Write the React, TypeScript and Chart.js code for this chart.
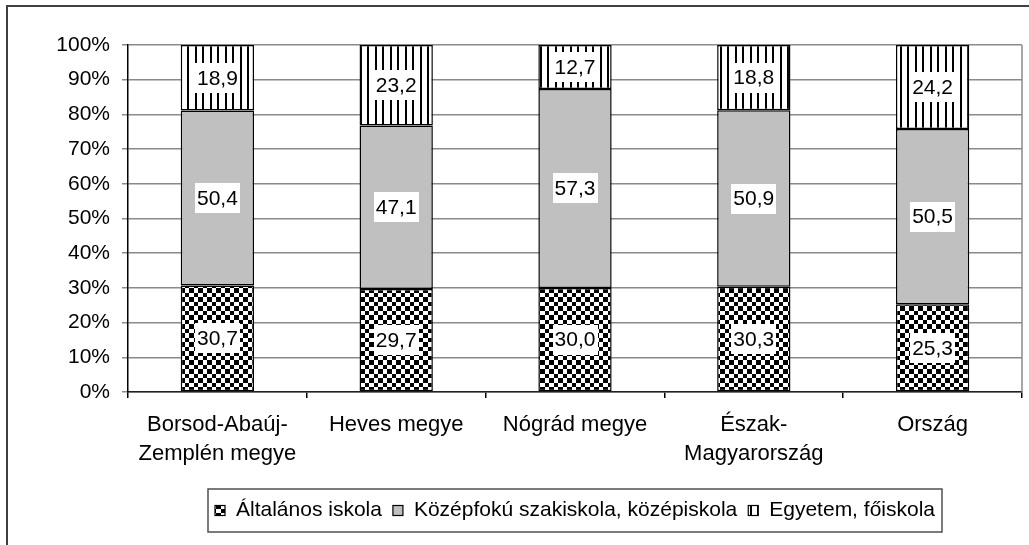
import React, { useEffect, useRef } from 'react';
import { Chart, registerables } from 'chart.js';

Chart.register(...registerables);

const categories: (string | string[])[] = [
  ['Borsod-Abaúj-', 'Zemplén megye'],
  'Heves megye',
  'Nógrád megye',
  ['Észak-', 'Magyarország'],
  'Ország',
];
const seriesNames = ['Általános iskola', 'Középfokú szakiskola, középiskola', 'Egyetem, főiskola'];
const altalanos = [30.7, 29.7, 30.0, 30.3, 25.3];
const kozepfoku = [50.4, 47.1, 57.3, 50.9, 50.5];
const egyetem = [18.9, 23.2, 12.7, 18.8, 24.2];
const yMin = 0;
const yMax = 100;
const yStep = 10;

const FONT = '"Liberation Sans", Arial, sans-serif';

function makeChecker(): CanvasPattern | string {
  const c = document.createElement('canvas');
  c.width = 9;
  c.height = 9;
  const g = c.getContext('2d')!;
  g.fillStyle = '#fff';
  g.fillRect(0, 0, 9, 9);
  g.fillStyle = '#000';
  g.fillRect(0, 0, 5, 5);
  g.fillRect(5, 5, 4, 4);
  return g.createPattern(c, 'repeat') || '#444';
}

function makeStripes(): CanvasPattern | string {
  const c = document.createElement('canvas');
  c.width = 15;
  c.height = 4;
  const g = c.getContext('2d')!;
  g.fillStyle = '#fff';
  g.fillRect(0, 0, 15, 4);
  g.fillStyle = '#000';
  g.fillRect(0, 0, 2, 4);
  g.fillRect(7, 0, 2, 4);
  return g.createPattern(c, 'repeat') || '#ddd';
}

export default function App() {
  const ref = useRef<HTMLCanvasElement | null>(null);

  useEffect(() => {
    if (!ref.current) return;
    const checker = makeChecker();
    const stripes = makeStripes();
    const fills = [checker, '#c0c0c0', stripes];
    const dataArrays = [altalanos, kozepfoku, egyetem];

    const framePlugin = {
      id: 'frame',
      beforeDraw(chart: any) {
        const ctx = chart.ctx;
        ctx.save();
        ctx.fillStyle = '#fff';
        ctx.fillRect(0, 0, chart.width, chart.height);
        ctx.strokeStyle = '#404040';
        ctx.lineWidth = 2;
        ctx.beginPath();
        ctx.moveTo(7, chart.height + 5);
        ctx.lineTo(7, 6);
        ctx.lineTo(chart.width + 5, 6);
        ctx.stroke();
        ctx.restore();
      },
      beforeDatasetsDraw(chart: any) {
        const ctx = chart.ctx;
        const a = chart.chartArea;
        ctx.save();
        ctx.strokeStyle = '#8a8a8a';
        ctx.lineWidth = 1.5;
        ctx.beginPath();
        ctx.moveTo(a.right, a.top);
        ctx.lineTo(a.right, a.bottom);
        ctx.stroke();
        ctx.restore();
      },
      afterDatasetsDraw(chart: any) {
        const ctx = chart.ctx;
        ctx.save();
        ctx.font = `21px ${FONT}`;
        ctx.textAlign = 'center';
        ctx.textBaseline = 'middle';
        chart.data.datasets.forEach((ds: any, i: number) => {
          const meta = chart.getDatasetMeta(i);
          meta.data.forEach((bar: any, j: number) => {
            const p = bar.getProps(['x', 'y', 'base'], true);
            const cy = (p.y + p.base) / 2;
            const txt = Number(ds.data[j]).toFixed(1).replace('.', ',');
            const w = ctx.measureText(txt).width + 4;
            const h = 30;
            ctx.fillStyle = '#fff';
            ctx.fillRect(Math.round(p.x - w / 2), Math.round(cy - h / 2), Math.round(w), h);
            ctx.fillStyle = '#000';
            ctx.fillText(txt, p.x, cy + 1);
          });
        });
        ctx.restore();
      },
      afterDraw(chart: any) {
        const ctx = chart.ctx;
        const a = chart.chartArea;
        ctx.save();
        ctx.font = `21px ${FONT}`;
        const marker = 10;
        const gap = 11;
        const widths = seriesNames.map((n) => ctx.measureText(n).width);
        let total = 0;
        widths.forEach((w, i) => {
          total += marker + gap + w + (i < widths.length - 1 ? gap : 0);
        });
        const cx = (a.left + a.right) / 2;
        const padX = 7;
        const boxLeft = cx - total / 2 - padX;
        const boxTop = 489;
        const boxBottom = 532;
        const cy = (boxTop + boxBottom) / 2;
        ctx.strokeStyle = '#505050';
        ctx.lineWidth = 1.5;
        ctx.strokeRect(boxLeft, boxTop, total + padX * 2, boxBottom - boxTop);
        let x = cx - total / 2;
        ctx.textBaseline = 'middle';
        ctx.textAlign = 'left';
        seriesNames.forEach((n, i) => {
          ctx.fillStyle = fills[i] as any;
          ctx.fillRect(x, cy - 5, marker, marker);
          ctx.strokeStyle = '#000';
          ctx.lineWidth = 1.2;
          ctx.strokeRect(x, cy - 5, marker, marker);
          x += marker + gap;
          ctx.fillStyle = '#000';
          ctx.fillText(n, x, cy);
          x += widths[i] + gap;
        });
        ctx.restore();
      },
    };

    const chart = new Chart(ref.current, {
      type: 'bar',
      data: {
        labels: categories as any,
        datasets: dataArrays.map((d, i) => ({
          label: seriesNames[i],
          data: d,
          backgroundColor: fills[i] as any,
          borderColor: '#000',
          borderWidth: 1.5,
          borderSkipped: false,
          barPercentage: 0.41,
          categoryPercentage: 1,
        })),
      },
      options: {
        animation: false,
        responsive: false,
        maintainAspectRatio: false,
        layout: { padding: { top: 45, right: 7, left: 0, bottom: 0 } },
        plugins: {
          legend: { display: false },
          tooltip: { enabled: false },
        },
        scales: {
          x: {
            stacked: true,
            offset: true,
            grid: {
              offset: true,
              drawOnChartArea: false,
              drawTicks: true,
              tickLength: 6,
              color: '#000',
              lineWidth: 1.5,
            },
            border: { display: true, color: '#222', width: 1.5 },
            ticks: {
              color: '#000',
              padding: 12,
              maxRotation: 0,
              autoSkip: false,
              font: { family: FONT, size: 22, lineHeight: 1.32 },
            },
            afterFit(scale: any) {
              scale.height = 153;
            },
          },
          y: {
            stacked: true,
            min: yMin,
            max: yMax,
            ticks: {
              stepSize: yStep,
              color: '#000',
              padding: 12,
              font: { family: FONT, size: 21 },
              callback: (v: any) => `${v}%`,
            },
            grid: {
              color: '#8a8a8a',
              lineWidth: 1.5,
              drawTicks: true,
              tickLength: 6,
            },
            border: { display: true, color: '#000', width: 1.5 },
            afterFit(scale: any) {
              scale.width = 128;
            },
          },
        },
      },
      plugins: [framePlugin],
    });
    return () => chart.destroy();
  }, []);

  return (
    <div style={{ position: 'absolute', left: 0, top: 0, width: 1029, height: 545, background: '#fff' }}>
      <canvas ref={ref} width={1029} height={545} style={{ width: 1029, height: 545, display: 'block' }} />
    </div>
  );
}
